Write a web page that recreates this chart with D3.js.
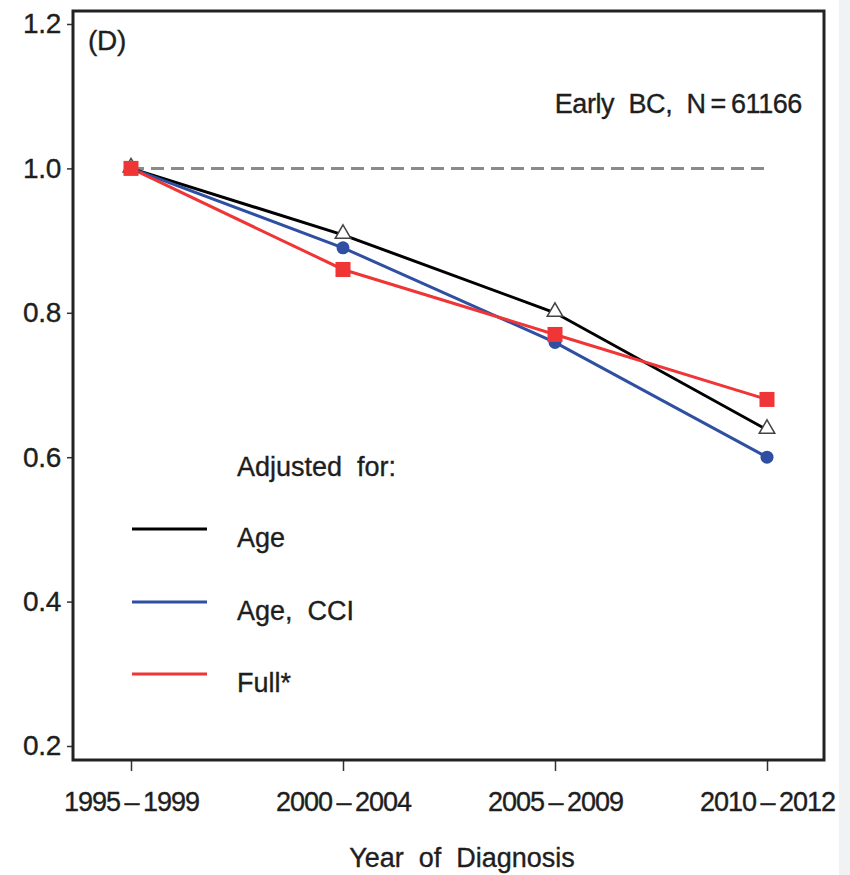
<!DOCTYPE html>
<html><head><meta charset="utf-8">
<script src="https://cdn.jsdelivr.net/npm/d3@7"></script>
<style>
body{margin:0;background:#fff;}
text{font-family:"Liberation Sans",Arial,sans-serif;fill:#1e1e1e;white-space:pre;stroke:#1e1e1e;stroke-width:0.35px;}
</style></head>
<body>
<svg id="c" width="850" height="875"></svg>
<script>
const categories = ["1995\u2009\u2013\u20091999","2000\u2009\u2013\u20092004","2005\u2009\u2013\u20092009","2010\u2009\u2013\u20092012"];
const ageValues = [1.0, 0.908, 0.80, 0.638];
const ageCciValues = [1.0, 0.89, 0.759, 0.60];
const fullValues = [1.0, 0.86, 0.77, 0.68];
const yTicks = [0.2, 0.4, 0.6, 0.8, 1.0, 1.2];
const seriesNames = ["Age", "Age,  CCI", "Full*"];
const seriesColors = ["#000000", "#2f4fa3", "#ef3535"];

const svg = d3.select("#c");
const L = 73, R = 824, T = 11, B = 760;

const x = d3.scalePoint().domain(categories).range([131, 767]);
const y = d3.scaleLinear().domain([0.1806, 1.2180]).range([B, T]);

// reference dashed line
svg.append("line").attr("x1", x(categories[0])).attr("x2", x(categories[3]))
  .attr("y1", y(1.0)).attr("y2", y(1.0))
  .attr("stroke", "#8a8a8a").attr("stroke-width", 3).attr("stroke-dasharray", "13,7");

// axes
const yAxis = d3.axisLeft(y).tickValues(yTicks).tickFormat(d3.format(".1f")).tickSize(6).tickPadding(6);
const gy = svg.append("g").attr("transform", `translate(${L},0)`).call(yAxis);
gy.select(".domain").remove();
gy.selectAll("line").attr("stroke", "#333").attr("stroke-width", 1.5);
gy.selectAll("text").attr("font-size", 28).attr("letter-spacing", -0.3)
  .style("font-family", "Liberation Sans, Arial, sans-serif");

const xAxis = d3.axisBottom(x).tickSize(11);
const gx = svg.append("g").attr("transform", `translate(0,${B})`).call(xAxis);
gx.select(".domain").remove();
gx.selectAll("line").attr("stroke", "#333").attr("stroke-width", 1.5);
gx.selectAll("text").attr("font-size", 27).attr("y", 51).attr("dy", 0).attr("letter-spacing", -1.0)
  .style("font-family", "Liberation Sans, Arial, sans-serif");

// frame
svg.append("rect").attr("x", L).attr("y", T).attr("width", R - L).attr("height", B - T)
  .attr("fill", "none").attr("stroke", "#222").attr("stroke-width", 3);

// lines
const line = d3.line().x((d, i) => x(categories[i])).y(d => y(d));
const allSeries = [ageValues, ageCciValues, fullValues];
allSeries.forEach((vals, k) => {
  svg.append("path").datum(vals).attr("d", line).attr("fill", "none")
    .attr("stroke", seriesColors[k]).attr("stroke-width", 3);
});

// markers
svg.selectAll(".tri").data(ageValues).enter().append("path")
  .attr("transform", (d, i) => `translate(${x(categories[i])},${y(d) - 1})`)
  .attr("d", d3.symbol().type(d3.symbolTriangle).size(105))
  .attr("fill", "#fff").attr("stroke", "#444").attr("stroke-width", 1.5);
svg.selectAll(".cir").data(ageCciValues).enter().append("circle")
  .attr("cx", (d, i) => x(categories[i])).attr("cy", d => y(d)).attr("r", 6.5)
  .attr("fill", seriesColors[1]);
svg.selectAll(".sq").data(fullValues).enter().append("rect")
  .attr("x", (d, i) => x(categories[i]) - 7.5).attr("y", d => y(d) - 7.5)
  .attr("width", 15).attr("height", 15).attr("fill", seriesColors[2]);

// annotations
svg.append("text").attr("x", 88).attr("y", 50).attr("font-size", 28).attr("letter-spacing", -0.3).text("(D)");
svg.append("text").attr("x", 802).attr("y", 113).attr("font-size", 27).attr("letter-spacing", -0.4).attr("text-anchor", "end")
  .text("Early  BC,  N\u2009=\u200961166");

// axis title
svg.append("text").attr("x", 462).attr("y", 867).attr("font-size", 27).attr("letter-spacing", 0).attr("text-anchor", "middle")
  .text("Year  of  Diagnosis");

// legend
svg.append("text").attr("x", 237).attr("y", 476).attr("font-size", 27).attr("letter-spacing", 0).text("Adjusted  for:");
const legY = [529, 602, 674];
seriesNames.forEach((n, k) => {
  svg.append("line").attr("x1", 132).attr("x2", 207).attr("y1", legY[k]).attr("y2", legY[k])
    .attr("stroke", seriesColors[k]).attr("stroke-width", 3);
  svg.append("text").attr("x", 237).attr("y", legY[k] + 18).attr("font-size", 27).attr("letter-spacing", 0).text(n);
});

// faint scanned margin strip on right
svg.append("rect").attr("x", 839).attr("y", 0).attr("width", 11).attr("height", 875).attr("fill", "#f1f2f3");
</script>
</body></html>
